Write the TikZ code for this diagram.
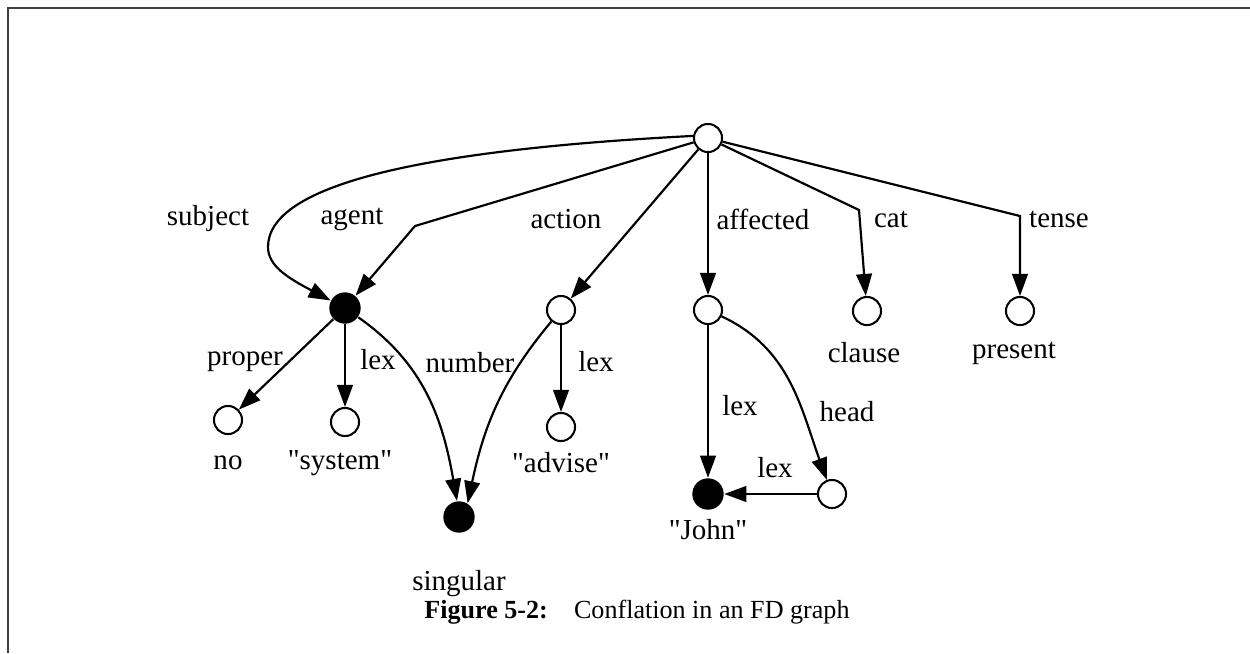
\documentclass[tikz,border=0pt]{standalone}
\usepackage{fontspec}
\setmainfont{Liberation Serif}
\usetikzlibrary{arrows.meta}

\tikzset{
  fnode/.style={circle,draw,line width=0.7pt,fill=white,minimum size=0.34cm,inner sep=0pt},
  bnode/.style={circle,fill=black,minimum size=0.38cm,inner sep=0pt},
  link/.style={-{Triangle[length=7.6pt,width=5.4pt]},line width=0.75pt},
  frame/.style={line width=0.7pt,black!75}
}

\begin{document}
\begin{tikzpicture}[x=0.01212cm,y=-0.01212cm,every node/.style={font=\fontsize{10}{12}\selectfont}]
	\useasboundingbox (0,0) rectangle (1250,653);
	\draw[frame] (8,653) -- (8,8) -- (1250,8);

	% Node
	\node[fnode] (root) at (708,138) {};
	\node[bnode] (agent) at (345,308) {};
	\node[fnode] (action) at (561,310) {};
	\node[fnode] (affected) at (708,310) {};
	\node[fnode] (clause) at (867,311) {};
	\node[fnode] (present) at (1020,311) {};
	\node[fnode] (no) at (228,420) {};
	\node[fnode] (system) at (345,422) {};
	\node[bnode] (singular) at (459,517) {};
	\node[fnode] (advise) at (561,427) {};
	\node[bnode] (john) at (708,494) {};
	\node[fnode] (head) at (832,494) {};

	%Label
	\node (tsubject) at (208,219) {subject};
	\node (tagent) at (352,219) {agent};
	\node (taction) at (566,219) {action};
	\node (taffected) at (763,219) {affected};
	\node (tcat) at (891,219) {cat};
	\node (ttense) at (1059,219) {tense};
	\node (tproper) at (245,362) {proper};
	\node (tlexa) at (378,360) {lex};
	\node (tnumber) at (470,363) {number};
	\node (tlexb) at (596,362) {lex};
	\node (tlexc) at (740,406) {lex};
	\node (thead) at (847,412) {head};
	\node (tlexd) at (775,468) {lex};
	\node (tno) at (228,463) {no};
	\node (tsystem) at (340,463) {\textquotedbl system\textquotedbl};
	\node (tsingular) at (459,584) {singular};
	\node (tadvise) at (561,463) {\textquotedbl advise\textquotedbl};
	\node (tjohn) at (708,530) {\textquotedbl John\textquotedbl};
	\node (tclause) at (864,353) {clause};
	\node (tpresent) at (1014,353) {present};
	\node[font=\fontsize{9}{11}\selectfont] (caption) at (637,612) {\textbf{Figure 5-2:}\quad Conflation in an FD graph};

	%link
	\coordinate (sbend) at (268,247);
	\coordinate (abend) at (415,226);
	\coordinate (cbend) at (859,210);
	\coordinate (tbend) at (1020,216);
	\draw[link] (root.172) .. controls (420,150) and (268,185) .. (sbend) .. controls (268,266) and (288,278) .. (agent);
	\draw[link] (root) -- (abend) -- (agent);
	\draw[link] (root) -- (action);
	\draw[link] (root) -- (affected);
	\draw[link] (root) -- (cbend) -- (clause);
	\draw[link] (root) -- (tbend) -- (present);
	\draw[link] (agent) -- (no);
	\draw[link] (agent) -- (system);
	\draw[link] (agent) to[out=-35,in=100] (singular.97);
	\draw[link] (action) to[out=-130,in=78] (singular.58);
	\draw[link] (action) -- (advise);
	\draw[link] (affected) -- (john);
	\draw[link] (affected) to[out=-25,in=110] (head);
	\draw[link] (head) -- (john);

\end{tikzpicture}
\end{document}
